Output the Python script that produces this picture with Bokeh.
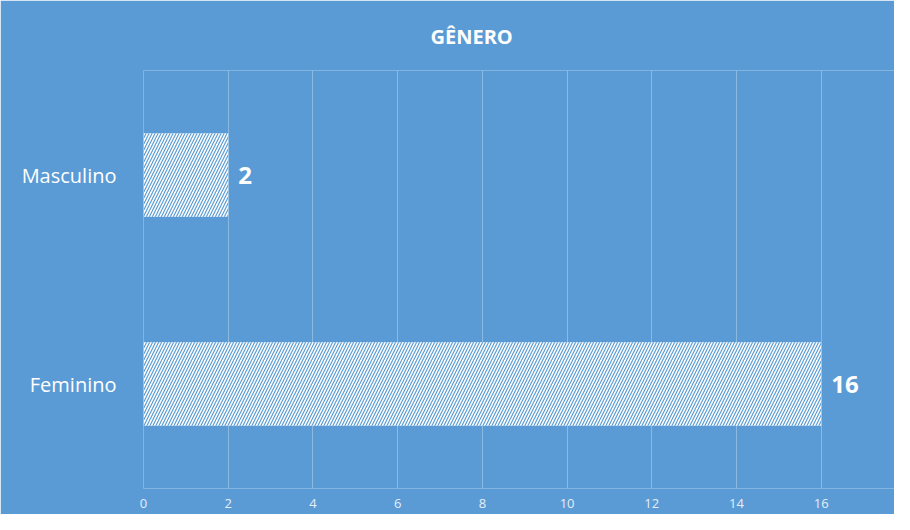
from bokeh.plotting import figure
from bokeh.models import Range1d, FactorRange, Title, ColumnDataSource
from bokeh.core.properties import value
from bokeh.embed import file_html
from bokeh.resources import INLINE

categories = ["Feminino", "Masculino"]
counts = [16, 2]
x_ticks = [0, 2, 4, 6, 8, 10, 12, 14, 16, 18]
title_text = "GÊNERO"

BG = "#5B9BD5"
FONT = "Open Sans"

src = ColumnDataSource(dict(cat=categories, val=counts, lbl=[str(v) for v in counts]))

p = figure(width=894, height=514, output_backend="svg", toolbar_location=None,
           y_range=FactorRange(*categories), x_range=Range1d(0, 17.73),
           min_border_left=143, min_border_right=0, min_border_top=70, min_border_bottom=26)
p.background_fill_color = BG
p.border_fill_color = BG
p.outline_line_color = None

t = Title(text=title_text, align="left", text_color="white", text_font_size="20px",
          text_font=FONT, text_font_style="bold", offset=287, standoff=41)
p.add_layout(t, "above")

p.hbar(y="cat", right="val", height=0.4, source=src, fill_color="white",
       hatch_pattern="/", hatch_color=BG, hatch_scale=6, hatch_weight=1.2, line_color=None)

p.text(x="val", y="cat", text="lbl", source=src, x_offset=10, text_baseline="middle",
       text_color="white", text_font=value(FONT), text_font_style="bold", text_font_size="24px")

p.xaxis.ticker = x_ticks
p.xaxis.axis_line_color = None
p.xaxis.major_tick_line_color = None
p.xaxis.minor_tick_line_color = None
p.xaxis.major_label_text_color = "#E4EEF8"
p.xaxis.major_label_text_font = FONT
p.xaxis.major_label_text_font_size = "13px"
p.xaxis.major_label_standoff = 4

p.yaxis.axis_line_color = None
p.yaxis.major_tick_line_color = None
p.yaxis.minor_tick_line_color = None
p.yaxis.major_label_text_color = "white"
p.yaxis.major_label_text_font = FONT
p.yaxis.major_label_text_font_size = "20px"
p.yaxis.major_label_standoff = 21

p.xgrid.grid_line_color = "white"
p.xgrid.grid_line_alpha = 0.3
p.ygrid.grid_line_color = None

open("out.html", "w").write(file_html(p, INLINE))
